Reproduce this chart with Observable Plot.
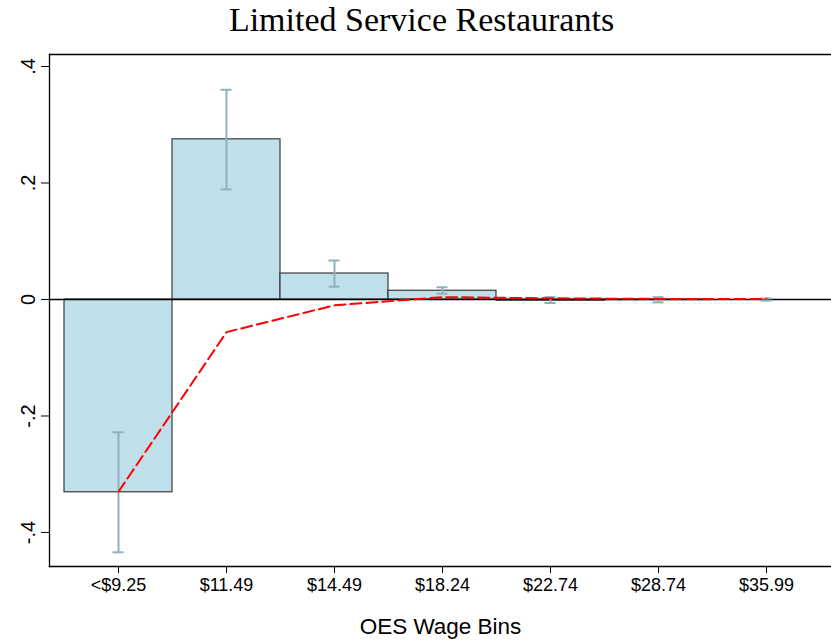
<!DOCTYPE html>
<html>
<head>
<meta charset="utf-8">
<script src="https://cdn.jsdelivr.net/npm/d3@7"></script>
<script src="https://cdn.jsdelivr.net/npm/@observablehq/plot@0.6"></script>
<style>
  html, body { margin: 0; padding: 0; background: #fff; overflow: hidden; }
</style>
</head>
<body>
<div id="chart"></div>
<script>
const title = "Limited Service Restaurants";
const xLabel = "OES Wage Bins";
const categories = ["<$9.25", "$11.49", "$14.49", "$18.24", "$22.74", "$28.74", "$35.99"];
const coef = [-0.331, 0.275, 0.0446, 0.015, -0.002, -0.001, 0.000];
const ciLow = [-0.434, 0.189, 0.022, 0.010, -0.006, -0.005, -0.002];
const ciHigh = [-0.228, 0.360, 0.067, 0.021, 0.004, 0.004, 0.002];
const predicted = [-0.33, -0.056, -0.010, 0.004, 0.002, 0.001, 0.001];
const yTicks = [-0.4, -0.2, 0, 0.2, 0.4];
const yTickLabels = ["-.4", "-.2", "0", ".2", ".4"];
const yDomain = [-0.4584, 0.4206];

const rows = categories.map((c, i) => ({cat: c, coef: coef[i], lo: ciLow[i], hi: ciHigh[i], pred: predicted[i]}));

const plot = Plot.plot({
  width: 831,
  height: 644,
  marginTop: 54,
  marginBottom: 78,
  marginLeft: 49,
  marginRight: 0,
  style: {fontFamily: "Liberation Sans, Arial, sans-serif", fontSize: "16px", background: "#fff", color: "#000"},
  x: {domain: categories, range: [62.8, 821.2], padding: 0, label: null},
  y: {domain: yDomain, label: null},
  marks: [
    Plot.barY(rows, {x: "cat", y: "coef", fill: "#bfe0ea", stroke: "#3a3a3a", strokeWidth: 1.2}),
    Plot.ruleY([0], {stroke: "#000", strokeWidth: 1.5}),
    Plot.ruleX(rows, {x: "cat", y1: "lo", y2: "hi", stroke: "#8fb1bc", strokeWidth: 2}),
    Plot.tickY(rows, {x: "cat", y: "lo", stroke: "#8fb1bc", strokeWidth: 2, insetLeft: 48.5, insetRight: 48.5}),
    Plot.tickY(rows, {x: "cat", y: "hi", stroke: "#8fb1bc", strokeWidth: 2, insetLeft: 48.5, insetRight: 48.5}),
    Plot.line(rows, {x: "cat", y: "pred", stroke: "#ff0000", strokeWidth: 2, strokeDasharray: "11,5"}),
    Plot.frame({anchor: "left", stroke: "#000", strokeWidth: 1.3}),
    Plot.frame({anchor: "top", stroke: "#000", strokeWidth: 1.3}),
    Plot.frame({anchor: "bottom", stroke: "#000", strokeWidth: 1.3}),
    Plot.axisY({ticks: yTicks, tickFormat: () => "", tickSize: 8, label: null}),
    Plot.text(yTicks, {y: (d) => d, text: (d, i) => yTickLabels[i], frameAnchor: "left", dx: -21, rotate: -90, textAnchor: "middle", lineAnchor: "middle", fontSize: 20, fill: "#000"}),
    Plot.axisX({tickSize: 7, tickPadding: 5, fontSize: 18, label: null}),
    Plot.text([xLabel], {frameAnchor: "bottom", dy: 60, lineAnchor: "middle", fontSize: 22.5, fill: "#000"}),
    Plot.text([title], {frameAnchor: "top", dx: -19, dy: -34, lineAnchor: "middle", fontSize: 34, fontFamily: "Liberation Serif, serif", fill: "#000"})
  ]
});
document.getElementById("chart").appendChild(plot);
</script>
</body>
</html>
